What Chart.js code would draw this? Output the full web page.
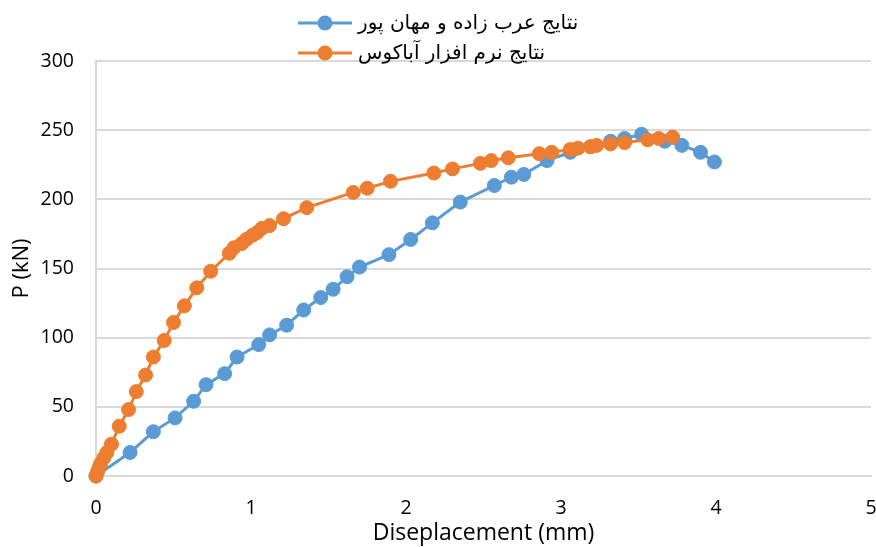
<!DOCTYPE html>
<html>
<head>
<meta charset="utf-8">
<script src="https://cdn.jsdelivr.net/npm/chart.js@4.4.1/dist/chart.umd.min.js"></script>
<style>
html,body{margin:0;padding:0;background:#fff;}
#wrap{width:876px;height:547px;position:relative;}
</style>
</head>
<body>
<div id="wrap"><canvas id="c" width="876" height="547"></canvas></div>
<script>
const seriesNames = ["نتایج عرب زاده و مهان پور", "نتایج نرم افزار آباکوس"];
const xTitle = "Diseplacement (mm)";
const yTitle = "P (kN)";

const blueX = [0, 0.22, 0.37, 0.51, 0.63, 0.71, 0.83, 0.91, 1.05, 1.12, 1.23, 1.34, 1.45, 1.53, 1.62, 1.70, 1.89, 2.03, 2.17, 2.35, 2.57, 2.68, 2.76, 2.91, 3.06, 3.19, 3.32, 3.41, 3.52, 3.67, 3.78, 3.90, 3.99];
const blueY = [0, 17, 32, 42, 54, 66, 74, 86, 95, 102, 109, 120, 129, 135, 144, 151, 160, 171, 183, 198, 210, 216, 218, 228, 234, 238, 242, 244, 247, 242, 239, 234, 227];

const orangeX = [0, 0.01, 0.02, 0.03, 0.05, 0.07, 0.10, 0.15, 0.21, 0.26, 0.32, 0.37, 0.44, 0.50, 0.57, 0.65, 0.74, 0.86, 0.89, 0.94, 0.97, 1.01, 1.04, 1.07, 1.12, 1.21, 1.36, 1.66, 1.75, 1.90, 2.18, 2.30, 2.48, 2.55, 2.66, 2.86, 2.94, 3.06, 3.11, 3.19, 3.23, 3.32, 3.41, 3.56, 3.63, 3.72];
const orangeY = [0, 3, 6, 9, 13, 17, 23, 36, 48, 61, 73, 86, 98, 111, 123, 136, 148, 161, 165, 168, 171, 174, 176, 179, 181, 186, 194, 205, 208, 213, 219, 222, 226, 228, 230, 233, 234, 236, 237, 238, 239, 240, 241, 243, 244, 245];

const xTicks = [0, 1, 2, 3, 4, 5];
const yTicks = [0, 50, 100, 150, 200, 250, 300];

const colors = ["#5B9BD5", "#ED7D31"];

function pts(xs, ys){ return xs.map((x,i)=>({x:x, y:ys[i]})); }

const legendPlugin = {
  id: 'customLegend',
  afterDraw(chart){
    const ctx = chart.ctx;
    const rows = [23, 53];
    chart.data.datasets.forEach((ds, i) => {
      const y = rows[i];
      ctx.save();
      ctx.strokeStyle = ds.borderColor;
      ctx.lineWidth = 3;
      ctx.beginPath();
      ctx.moveTo(298, y); ctx.lineTo(352, y);
      ctx.stroke();
      ctx.fillStyle = ds.backgroundColor;
      ctx.beginPath();
      ctx.arc(325, y, 7.5, 0, Math.PI*2);
      ctx.fill();
      ctx.fillStyle = "#000";
      ctx.font = "20px 'DejaVu Sans'";
      ctx.textBaseline = "middle";
      ctx.textAlign = "left";
      ctx.fillText(ds.label, 358, y + 1);
      ctx.restore();
    });
  }
};

new Chart(document.getElementById('c'), {
  type: 'scatter',
  data: {
    datasets: [
      { label: seriesNames[0], data: pts(blueX, blueY), showLine: true, borderColor: colors[0], backgroundColor: colors[0], borderWidth: 3, pointRadius: 7, pointBorderWidth: 1, pointHoverRadius: 7, tension: 0, order: 1, clip: 10 },
      { label: seriesNames[1], data: pts(orangeX, orangeY), showLine: true, borderColor: colors[1], backgroundColor: colors[1], borderWidth: 3, pointRadius: 7, pointBorderWidth: 1, pointHoverRadius: 7, tension: 0, order: 0, clip: 10 }
    ]
  },
  options: {
    responsive: false,
    animation: false,
    events: [],
    layout: { autoPadding: false, padding: { top: 61, right: 5, left: 0, bottom: 0 } },
    plugins: { legend: { display: false }, tooltip: { enabled: false } },
    scales: {
      x: {
        type: 'linear', min: 0, max: 5,
        afterBuildTicks(s){ s.ticks = xTicks.map(v=>({value:v})); },
        afterFit(s){ s.height = 71; s.paddingRight = 0; s.paddingLeft = 0; },
        grid: { display: false, drawTicks: false },
        border: { display: true, color: '#d9d9d9', width: 2 },
        ticks: { color: '#000', font: { family: "'Open Sans'", size: 19.5 }, padding: 21 },
        title: { display: true, text: xTitle, color: '#000', font: { family: "'Open Sans'", size: 23 }, padding: { top: 0, bottom: 0 } }
      },
      y: {
        type: 'linear', min: 0, max: 300,
        afterBuildTicks(s){ s.ticks = yTicks.map(v=>({value:v})); },
        afterFit(s){ s.width = 96; },
        grid: { color: '#d9d9d9', lineWidth: 2, drawTicks: false },
        border: { display: true, color: '#d9d9d9', width: 2 },
        ticks: { color: '#000', font: { family: "'Open Sans'", size: 19.5 }, padding: 22 },
        title: { display: true, text: yTitle, color: '#000', font: { family: "'Open Sans'", size: 22 }, padding: { top: 9, bottom: 0 } }
      }
    }
  },
  plugins: [legendPlugin]
});
</script>
</body>
</html>
